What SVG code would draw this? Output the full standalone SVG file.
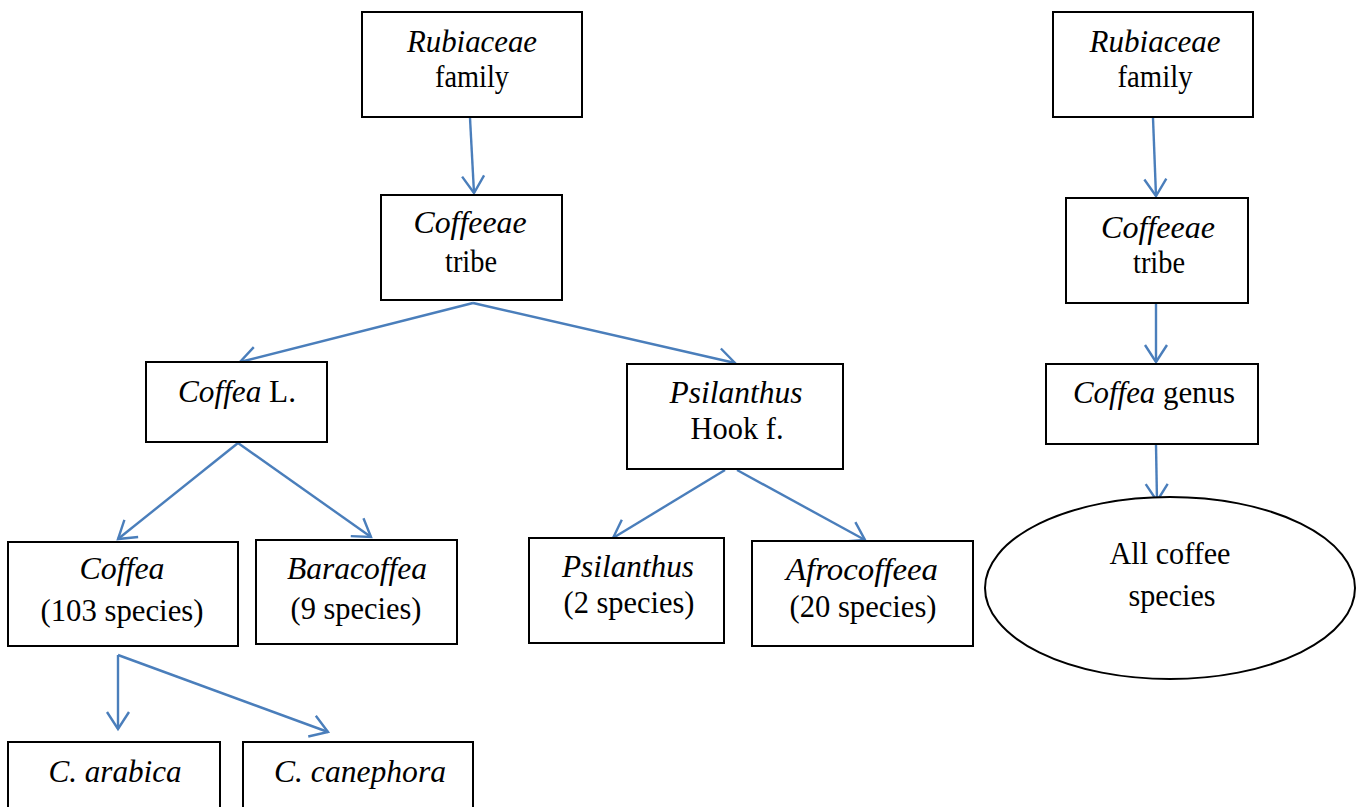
<svg xmlns="http://www.w3.org/2000/svg" width="1363" height="807" viewBox="0 0 1363 807">
  <style>
    .box { fill: #ffffff; stroke: #000000; stroke-width: 2; }
    .lbl { font-family: "Liberation Serif", "Times New Roman", serif; font-size: 31px; fill: #000000; text-anchor: middle; }
    .it { font-style: italic; }
    .link { fill: none; stroke: #4a7ebb; stroke-width: 2.4; marker-end: url(#arrow); }
  </style>
  <defs>
    <marker id="arrow" markerUnits="userSpaceOnUse" viewBox="-20 -14 24 28" refX="0" refY="0" markerWidth="24" markerHeight="28" orient="auto" overflow="visible">
      <path d="M -17,-11 L 0,0 L -17,11" fill="none" stroke="#4a7ebb" stroke-width="2.4" stroke-linejoin="miter"/>
    </marker>
  </defs>

  <rect width="1363" height="807" fill="#ffffff"/>

  <!-- connectors -->
  <g id="connectors">
    <line class="link" x1="470" y1="118" x2="474" y2="193"/>
    <line class="link" x1="473" y1="303" x2="240" y2="362"/>
    <line class="link" x1="473" y1="303" x2="735" y2="363"/>
    <line class="link" x1="238" y1="443" x2="118" y2="539"/>
    <line class="link" x1="238" y1="443" x2="371" y2="537"/>
    <line class="link" x1="725" y1="470" x2="613" y2="538"/>
    <line class="link" x1="737" y1="470" x2="865" y2="540"/>
    <line class="link" x1="118" y1="655" x2="118" y2="729"/>
    <line class="link" x1="118" y1="655" x2="328" y2="732"/>
    <line class="link" x1="1153" y1="118" x2="1156" y2="196"/>
    <line class="link" x1="1156" y1="304" x2="1156" y2="362"/>
    <line class="link" x1="1156" y1="445" x2="1157" y2="501"/>
  </g>

  <!-- left tree -->
  <g id="rubiaceae-family">
    <rect class="box" x="362" y="12" width="220" height="105"/>
    <text class="lbl it" x="472" y="52" textLength="130" lengthAdjust="spacingAndGlyphs">Rubiaceae</text>
    <text class="lbl" x="472" y="87" textLength="74" lengthAdjust="spacingAndGlyphs">family</text>
  </g>
  <g id="coffeeae-tribe">
    <rect class="box" x="381" y="195" width="181" height="105"/>
    <text class="lbl it" x="470" y="233" textLength="113" lengthAdjust="spacingAndGlyphs">Coffeeae</text>
    <text class="lbl" x="471" y="272" textLength="52" lengthAdjust="spacingAndGlyphs">tribe</text>
  </g>
  <g id="coffea-l">
    <rect class="box" x="146" y="362" width="181" height="80"/>
    <text class="lbl" x="237" y="402" textLength="118" lengthAdjust="spacingAndGlyphs"><tspan class="it">Coffea</tspan> L.</text>
  </g>
  <g id="psilanthus-hook">
    <rect class="box" x="627" y="364" width="216" height="105"/>
    <text class="lbl it" x="736" y="403" textLength="133" lengthAdjust="spacingAndGlyphs">Psilanthus</text>
    <text class="lbl" x="737" y="439" textLength="93" lengthAdjust="spacingAndGlyphs">Hook f.</text>
  </g>
  <g id="coffea-subgenus">
    <rect class="box" x="8" y="542" width="230" height="104"/>
    <text class="lbl it" x="122" y="579" textLength="85" lengthAdjust="spacingAndGlyphs">Coffea</text>
    <text class="lbl" x="122" y="621" textLength="163" lengthAdjust="spacingAndGlyphs">(103 species)</text>
  </g>
  <g id="baracoffea">
    <rect class="box" x="256" y="540" width="201" height="104"/>
    <text class="lbl it" x="357" y="579" textLength="140" lengthAdjust="spacingAndGlyphs">Baracoffea</text>
    <text class="lbl" x="356" y="619" textLength="131" lengthAdjust="spacingAndGlyphs">(9 species)</text>
  </g>
  <g id="psilanthus-group">
    <rect class="box" x="529" y="538" width="195" height="105"/>
    <text class="lbl it" x="628" y="577" textLength="132" lengthAdjust="spacingAndGlyphs">Psilanthus</text>
    <text class="lbl" x="629" y="613" textLength="131" lengthAdjust="spacingAndGlyphs">(2 species)</text>
  </g>
  <g id="afrocoffeea">
    <rect class="box" x="752" y="541" width="221" height="105"/>
    <text class="lbl it" x="862" y="580" textLength="152" lengthAdjust="spacingAndGlyphs">Afrocoffeea</text>
    <text class="lbl" x="863" y="617" textLength="147" lengthAdjust="spacingAndGlyphs">(20 species)</text>
  </g>
  <g id="c-arabica">
    <rect class="box" x="8" y="742" width="212" height="80"/>
    <text class="lbl it" x="115" y="782" textLength="133" lengthAdjust="spacingAndGlyphs">C. arabica</text>
  </g>
  <g id="c-canephora">
    <rect class="box" x="243" y="742" width="230" height="80"/>
    <text class="lbl it" x="360" y="782" textLength="172" lengthAdjust="spacingAndGlyphs">C. canephora</text>
  </g>

  <!-- right chain -->
  <g id="rubiaceae-family-2">
    <rect class="box" x="1053" y="12" width="200" height="105"/>
    <text class="lbl it" x="1155" y="52" textLength="131" lengthAdjust="spacingAndGlyphs">Rubiaceae</text>
    <text class="lbl" x="1155" y="87" textLength="75" lengthAdjust="spacingAndGlyphs">family</text>
  </g>
  <g id="coffeeae-tribe-2">
    <rect class="box" x="1066" y="198" width="182" height="105"/>
    <text class="lbl it" x="1158" y="238" textLength="114" lengthAdjust="spacingAndGlyphs">Coffeeae</text>
    <text class="lbl" x="1159" y="273" textLength="52" lengthAdjust="spacingAndGlyphs">tribe</text>
  </g>
  <g id="coffea-genus">
    <rect class="box" x="1046" y="364" width="212" height="80"/>
    <text class="lbl" x="1154" y="403" textLength="162" lengthAdjust="spacingAndGlyphs"><tspan class="it">Coffea</tspan> genus</text>
  </g>
  <g id="all-coffee-species">
    <ellipse class="box" cx="1170" cy="588" rx="185" ry="91"/>
    <text class="lbl" x="1170" y="564" textLength="121" lengthAdjust="spacingAndGlyphs">All coffee</text>
    <text class="lbl" x="1172" y="606" textLength="87" lengthAdjust="spacingAndGlyphs">species</text>
  </g>
</svg>
